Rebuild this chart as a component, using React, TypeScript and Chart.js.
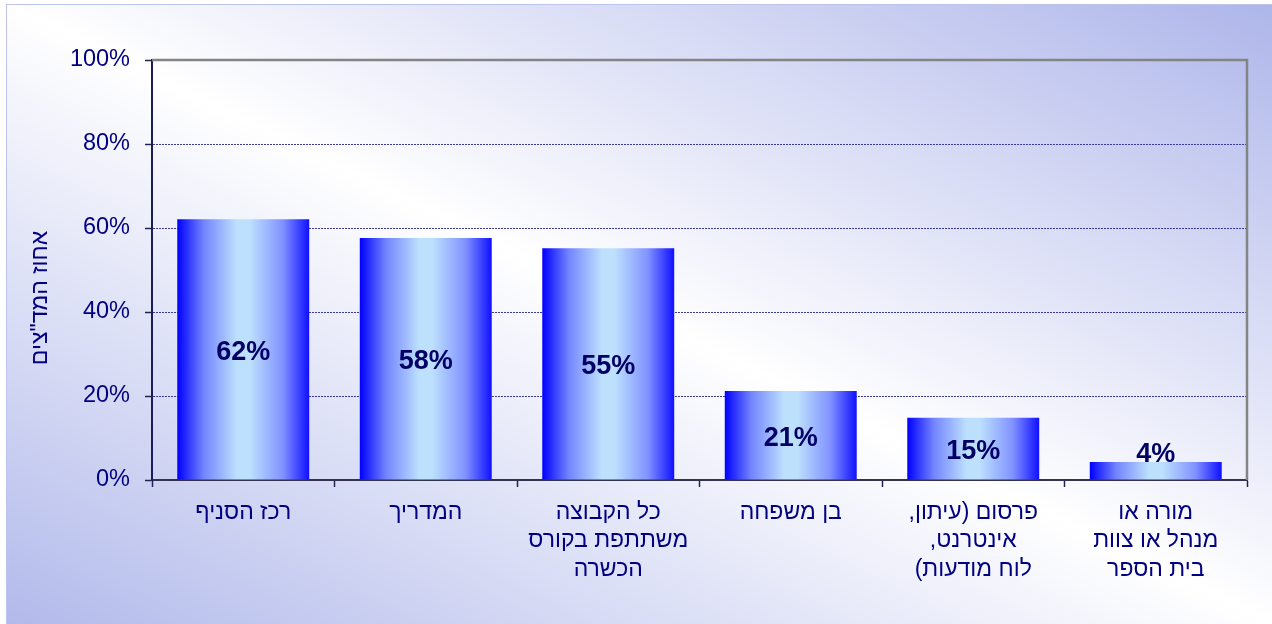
import React, { useEffect, useRef } from 'react';
import { Chart, registerables } from 'chart.js';

Chart.register(...registerables);

const categories: (string | string[])[] = [
  'רכז הסניף',
  'המדריך',
  ['כל הקבוצה', 'משתתפת בקורס', 'הכשרה'],
  'בן משפחה',
  ['פרסום (עיתון,', 'אינטרנט,', 'לוח מודעות)'],
  ['מורה או', 'מנהל או צוות', 'בית הספר'],
];
const values = [62.1, 57.6, 55.2, 21.2, 14.8, 4.3];
const yTicks = [0, 20, 40, 60, 80, 100];
const yTitle = 'אחוז המד"צים';

const FONT = "Arial, 'Liberation Sans', 'DejaVu Sans', sans-serif";
const NAVY = '#000080';
const BAR_PCT = 0.723;

const backgroundPlugin = {
  id: 'bgFrame',
  beforeDraw(chart: any) {
    const { ctx, width, height } = chart;
    ctx.save();
    ctx.fillStyle = '#ffffff';
    ctx.fillRect(0, 0, width, height);
    const fx = 6, fy = 4, fw = width - fx, fh = height - fy;
    ctx.save();
    ctx.translate(fx, fy);
    ctx.scale(fw, fh);
    const g = ctx.createLinearGradient(0, 1, 1, 0);
    g.addColorStop(0, '#b2baeb');
    g.addColorStop(0.5, '#ffffff');
    g.addColorStop(1, '#aeb6ea');
    ctx.fillStyle = g;
    ctx.fillRect(0, 0, 1, 1);
    ctx.restore();
    ctx.strokeStyle = '#bcc4ee';
    ctx.lineWidth = 1;
    ctx.strokeRect(fx + 0.5, fy + 0.5, fw, fh);
    ctx.restore();
  },
};

const overlayPlugin = {
  id: 'overlay',
  afterDatasetsDraw(chart: any) {
    const { ctx } = chart;
    const meta = chart.getDatasetMeta(0);
    ctx.save();
    ctx.font = `bold 27px ${FONT}`;
    ctx.fillStyle = '#000066';
    ctx.textAlign = 'center';
    ctx.textBaseline = 'middle';
    meta.data.forEach((el: any, i: number) => {
      const mid = (el.y + el.base) / 2 + 3;
      const y = Math.min(mid, el.base - 25);
      ctx.fillText(Math.round(values[i]) + '%', el.x, y);
    });
    ctx.restore();
  },
  afterDraw(chart: any) {
    const { ctx, chartArea } = chart;
    ctx.save();
    ctx.strokeStyle = '#848484';
    ctx.lineWidth = 2.5;
    ctx.beginPath();
    ctx.moveTo(chartArea.left, chartArea.top);
    ctx.lineTo(chartArea.right, chartArea.top);
    ctx.lineTo(chartArea.right, chartArea.bottom);
    ctx.stroke();
    // y-axis title
    ctx.translate(47, 298);
    ctx.rotate(-Math.PI / 2);
    ctx.font = `23px ${FONT}`;
    ctx.fillStyle = NAVY;
    ctx.textAlign = 'center';
    ctx.textBaseline = 'alphabetic';
    ctx.fillText(yTitle, 0, 0);
    ctx.restore();
  },
};

export default function App() {
  const ref = useRef<HTMLCanvasElement | null>(null);

  useEffect(() => {
    const canvas = ref.current;
    if (!canvas) return;
    const chart = new Chart(canvas, {
      type: 'bar',
      data: {
        labels: categories,
        datasets: [
          {
            data: values,
            borderWidth: 0,
            categoryPercentage: 1,
            barPercentage: BAR_PCT,
            backgroundColor: (c: any) => {
              const ch = c.chart;
              const xs = ch.scales && ch.scales.x;
              const area = ch.chartArea;
              if (!xs || !area) return '#6a7dff';
              const cx = xs.getPixelForValue(c.dataIndex);
              const w = ((area.right - area.left) / categories.length) * BAR_PCT;
              const g = ch.ctx.createLinearGradient(cx - w / 2, 0, cx + w / 2, 0);
              g.addColorStop(0, '#0000ff');
              g.addColorStop(0.2, '#7384ff');
              g.addColorStop(0.45, '#bde0fd');
              g.addColorStop(0.55, '#bde0fd');
              g.addColorStop(0.8, '#8192ff');
              g.addColorStop(1, '#1010ff');
              return g;
            },
          } as any,
        ],
      },
      options: {
        animation: false,
        responsive: false,
        maintainAspectRatio: false,
        events: [],
        layout: { padding: { top: 60, right: 25, left: 0, bottom: 0 } },
        plugins: {
          legend: { display: false },
          tooltip: { enabled: false },
          title: { display: false },
        },
        scales: {
          x: {
            type: 'category',
            offset: true,
            grid: {
              display: true,
              drawOnChartArea: false,
              drawTicks: true,
              tickLength: 7,
              tickColor: '#22224e',
              tickWidth: 1.5,
              offset: true,
            },
            border: { display: true, color: '#33334f', width: 2 },
            ticks: {
              color: NAVY,
              font: { family: FONT, size: 23, lineHeight: 1.24 },
              padding: 11,
              maxRotation: 0,
              minRotation: 0,
              autoSkip: false,
            },
            afterFit: (s: any) => {
              s.height = 144;
            },
          },
          y: {
            type: 'linear',
            min: 0,
            max: 100,
            afterBuildTicks: (s: any) => {
              s.ticks = yTicks.map((v) => ({ value: v }));
            },
            grid: {
              display: true,
              drawOnChartArea: true,
              drawTicks: true,
              tickLength: 7,
              tickColor: '#22224e',
              tickWidth: 1.5,
              lineWidth: 1,
              color: (c: any) =>
                c.tick && (c.tick.value === 0 || c.tick.value === 100)
                  ? 'rgba(0,0,0,0)'
                  : '#3a3a96',
            },
            border: { display: true, color: '#1c1c5c', width: 2, dash: [2, 1] },
            ticks: {
              color: NAVY,
              font: { family: FONT, size: 23.5 },
              padding: 15,
              callback: (v: any) => v + '%',
            },
            afterFit: (s: any) => {
              s.width = 152;
            },
          },
        },
      },
      plugins: [backgroundPlugin, overlayPlugin],
    } as any);
    return () => chart.destroy();
  }, []);

  return (
    <div style={{ position: 'absolute', left: 0, top: 0, width: 1272, height: 624 }}>
      <canvas
        ref={ref}
        dir="rtl"
        width={1272}
        height={624}
        style={{ width: 1272, height: 624, display: 'block' }}
      />
    </div>
  );
}
